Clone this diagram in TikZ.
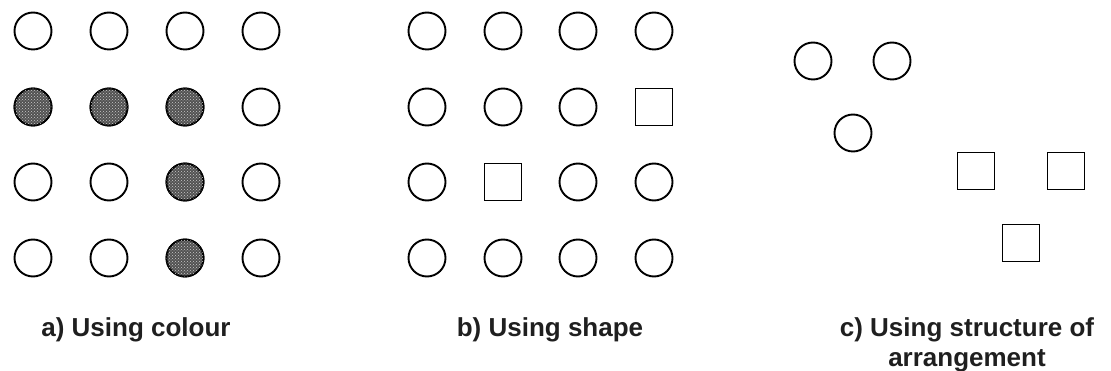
\documentclass[tikz,border=0pt]{standalone}
\usepackage{fontspec}
\setmainfont{Liberation Sans}
\usetikzlibrary{patterns}
\begin{document}
\begin{tikzpicture}[x=1pt,y=-1pt,
  circ/.style={draw=black,circle,line width=1.9pt,minimum size=37pt,inner sep=0pt},
  sq/.style={draw=black,rectangle,line width=1.9pt,minimum size=37pt,inner sep=0pt},
  dark/.style={circ,fill=black!68,postaction={pattern=crosshatch dots,pattern color=white!80!black}},
  lbl/.style={font=\bfseries\fontsize{26}{29}\selectfont,text=black!88,anchor=base,align=center,inner sep=0pt}]
\useasboundingbox (0,0) rectangle (1111,371);
% panel a
\foreach \r/\y in {1/31,2/107,3/182,4/258}{
  \foreach \c/\x in {1/33,2/109,3/185,4/261}{
    \node[circ] (a-\r-\c) at (\x,\y) {};
  }
}
\node[dark] at (a-2-1) {};
\node[dark] at (a-2-2) {};
\node[dark] at (a-2-3) {};
\node[dark] at (a-3-3) {};
\node[dark] at (a-4-3) {};
% panel b
\foreach \r/\y in {1/31,2/107,3/182,4/258}{
  \foreach \c/\x in {1/427,2/503,3/578,4/654}{
    \ifnum\r\c=24\relax
      \node[sq] (b-\r-\c) at (\x,\y) {};
    \else\ifnum\r\c=32\relax
      \node[sq] (b-\r-\c) at (\x,\y) {};
    \else
      \node[circ] (b-\r-\c) at (\x,\y) {};
    \fi\fi
  }
}
% panel c
\node[circ] (c1) at (813,61) {};
\node[circ] (c2) at (892,61) {};
\node[circ] (c3) at (853,133) {};
\node[sq] (s1) at (976,171) {};
\node[sq] (s2) at (1066,171) {};
\node[sq] (s3) at (1021,243) {};
% labels
\node[lbl] (la) at (136,337) {a) Using colour};
\node[lbl] (lb) at (550,337) {b) Using shape};
\node[lbl] (lc) at (967,366) {c) Using structure of\\arrangement};
\end{tikzpicture}
\end{document}
